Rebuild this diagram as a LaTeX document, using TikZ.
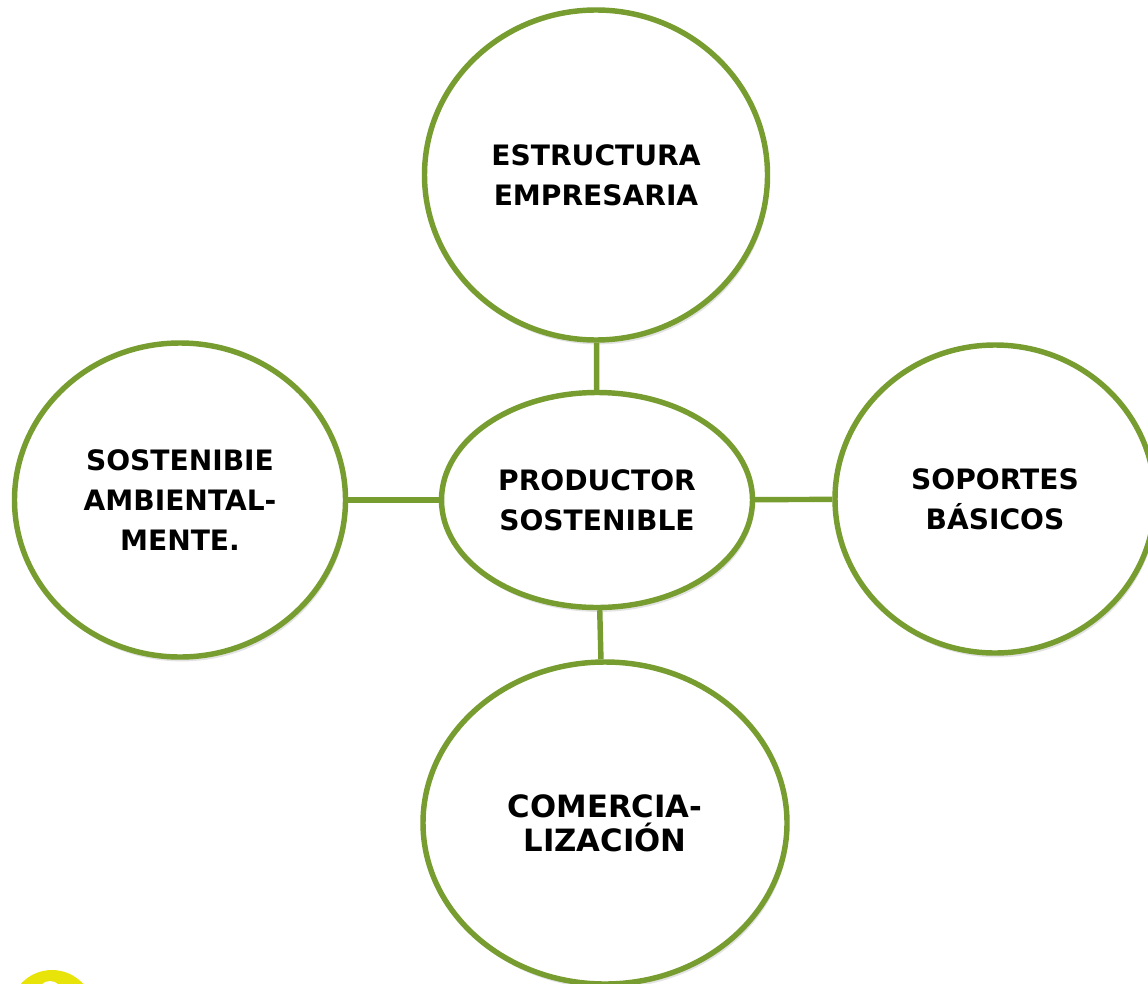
\documentclass[tikz,border=0pt]{standalone}
\usepackage{fontspec}
\setmainfont{DejaVu Sans}
\usetikzlibrary{shapes,shadows}
\definecolor{leafgreen}{RGB}{119,156,47}
\definecolor{logoyellow}{RGB}{232,228,10}
\tikzstyle{bubble}=[ellipse,draw=leafgreen,line width=3.1pt,fill=white,inner sep=0pt,align=center,drop shadow={opacity=0.22,shadow xshift=1pt,shadow yshift=-2.5pt}]
\tikzstyle{link} = [draw=leafgreen,line width=3.1pt]

\begin{document}
\begin{tikzpicture}[x=0.02cm,y=-0.02cm]

    \clip (0,0) rectangle (1148,983);
    \fill[white] (0,0) rectangle (1148,983);

    % corner of the logo
    \fill[logoyellow] (52,1012) circle (0.84cm);
    \fill[white] (50,993) circle (0.24cm);

     \foreach \x/\y/\w/\h/\fs/\ls/\name/\txt in {597/500/311/215/16/22.7/prod/{PRODUCTOR\\SOSTENIBLE},
                                         596/175/343/330/16/22.7/estr/{ESTRUCTURA\\EMPRESARIA},
                                         180/500/331/314/16/22.7/sost/{SOSTENIBIE\\AMBIENTAL-\\MENTE.},
                                         995/499/320/308/16/22.7/sopo/{SOPORTES\\BÁSICOS},
                                         605/823/364/322/17.5/19.5/come/{COMERCIA-\\LIZACIÓN}}
        \node[bubble, minimum width=\w*0.02cm, minimum height=\h*0.02cm,
              font=\bfseries\fontsize{\fs}{\ls}\selectfont] (\name) at (\x,\y) {\txt};

    \foreach \source/ \dest in {estr/prod, prod/come, sost/prod, prod/sopo}
        \path[link] (\source) -- (\dest);

\end{tikzpicture}
\end{document}
